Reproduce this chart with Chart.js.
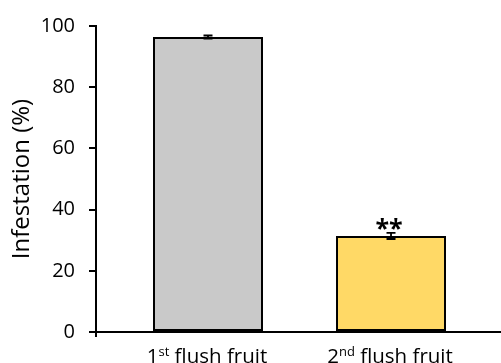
<!DOCTYPE html>
<html>
<head>
<meta charset="utf-8">
<script src="https://cdn.jsdelivr.net/npm/chart.js@4/dist/chart.umd.min.js"></script>
<style>
  html, body { margin: 0; padding: 0; background: #ffffff; }
  #wrap { width: 501px; height: 363px; }
</style>
</head>
<body>
<div id="wrap"><canvas id="c" width="501" height="363"></canvas></div>
<script>
// Category labels: [number, superscript, rest]
const categories = [
  ['1', 'st', ' flush fruit'],
  ['2', 'nd', ' flush fruit']
];
// Mean infestation (%) and standard error
const infestation = [96.4, 31.4];
const stdError = [0.5, 1.0];
// Significance marks above each bar
const significance = ['', '**'];
// Y-axis tick values
const yTicks = [0, 20, 40, 60, 80, 100];

const barFill = ['#C9C9C9', '#FFD966'];
const FONT = '"Open Sans", "DejaVu Sans", sans-serif';

// Error bars, significance stars and the category labels with superscripts
const annotate = {
  id: 'annotate',
  afterDatasetsDraw(chart) {
    const ctx = chart.ctx;
    const xs = chart.scales.x, ys = chart.scales.y;
    ctx.save();
    ctx.strokeStyle = '#000';
    ctx.lineWidth = 1.8;
    infestation.forEach((v, i) => {
      const cx = xs.getPixelForValue(i + 1);
      const yTop = ys.getPixelForValue(v + stdError[i]);
      const yBot = ys.getPixelForValue(v - stdError[i]);
      const cap = 4.5;
      ctx.beginPath();
      ctx.moveTo(cx, yTop); ctx.lineTo(cx, yBot);
      ctx.moveTo(cx - cap, yTop); ctx.lineTo(cx + cap, yTop);
      ctx.moveTo(cx - cap, yBot); ctx.lineTo(cx + cap, yBot);
      ctx.stroke();
      if (significance[i]) {
        ctx.fillStyle = '#000';
        ctx.font = 'bold 25px ' + FONT;
        ctx.textAlign = 'center';
        ctx.textBaseline = 'alphabetic';
        ctx.fillText(significance[i], cx - 2, yTop + 4);
      }
    });
    // small tick below the axis origin
    ctx.lineWidth = 2;
    ctx.beginPath();
    ctx.moveTo(xs.left, xs.top);
    ctx.lineTo(xs.left, xs.top + 5);
    ctx.stroke();
    // category labels
    ctx.fillStyle = '#000';
    ctx.textBaseline = 'alphabetic';
    ctx.textAlign = 'left';
    const base = 20.5, sup = 13;
    categories.forEach((parts, i) => {
      const cx = xs.getPixelForValue(i + 1) - 1;
      ctx.font = base + 'px ' + FONT;
      const w0 = ctx.measureText(parts[0]).width;
      const w2 = ctx.measureText(parts[2]).width;
      ctx.font = sup + 'px ' + FONT;
      const w1 = ctx.measureText(parts[1]).width;
      let x = cx - (w0 + w1 + w2) / 2;
      const y = xs.top + 31;
      ctx.font = base + 'px ' + FONT;
      ctx.fillText(parts[0], x, y); x += w0;
      ctx.font = sup + 'px ' + FONT;
      ctx.fillText(parts[1], x, y - 7); x += w1;
      ctx.font = base + 'px ' + FONT;
      ctx.fillText(parts[2], x, y);
    });
    ctx.restore();
  }
};

new Chart(document.getElementById('c'), {
  type: 'bar',
  data: {
    datasets: [{
      data: infestation.map((v, i) => ({ x: i + 1, y: v })),
      backgroundColor: barFill,
      borderColor: '#000',
      borderWidth: 2,
      borderSkipped: false,
      categoryPercentage: 1,
      barPercentage: 0.601
    }]
  },
  options: {
    responsive: false,
    animation: false,
    devicePixelRatio: 1,
    layout: { padding: { left: 0, right: 0, top: 24, bottom: 0 } },
    plugins: { legend: { display: false }, tooltip: { enabled: false } },
    scales: {
      x: {
        type: 'linear',
        offset: false,
        bounds: 'data',
        min: 0.388,
        max: 2.601,
        afterBuildTicks: s => { s.ticks = categories.map((c, i) => ({ value: i + 1 })); },
        afterFit: s => { s.height = 31; },
        ticks: { display: false },
        grid: { display: false, drawTicks: false, offset: false },
        border: { display: true, color: '#000', width: 2 }
      },
      y: {
        min: 0,
        max: 100,
        afterBuildTicks: s => { s.ticks = yTicks.map(v => ({ value: v })); },
        afterFit: s => { s.width = 96; },
        ticks: { color: '#000', padding: 14, font: { family: FONT, size: 20 } },
        grid: { drawOnChartArea: false, tickLength: 7, color: '#000', lineWidth: 2 },
        border: { display: true, color: '#000', width: 2 },
        title: {
          display: true,
          text: 'Infestation (%)',
          color: '#000',
          font: { family: FONT, size: 24 },
          padding: { top: 8, bottom: 0 }
        }
      }
    }
  },
  plugins: [annotate]
});
</script>
</body>
</html>
